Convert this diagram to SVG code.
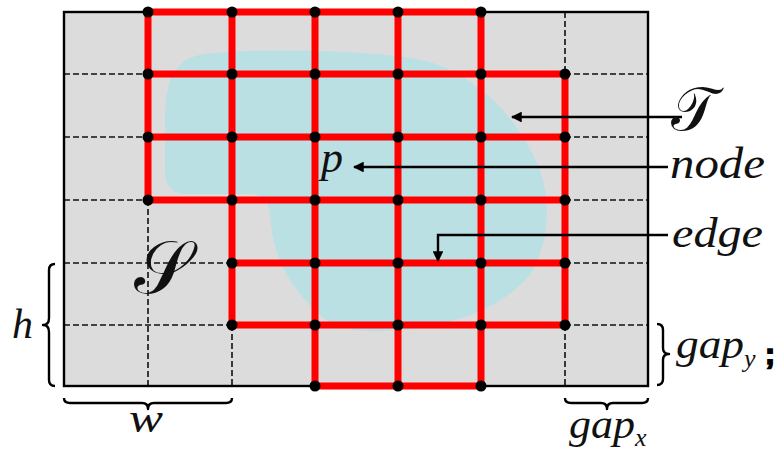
<svg xmlns="http://www.w3.org/2000/svg" width="781" height="452" viewBox="0 0 781 452">
  <style>
    .math { font-family: 'Liberation Serif', 'DejaVu Serif', serif; font-style: italic; fill: #111; }
    .cal { font-family: 'DejaVu Serif', serif; fill: #111; }
    .dash { stroke: #111; stroke-width: 1.6; stroke-dasharray: 6 3; fill: none; }
    .red { stroke: #ff0000; stroke-width: 7; fill: none; }
    .dot { fill: #000; }
    .lead { stroke: #000; stroke-width: 2.4; fill: none; }
    .brace { stroke: #000; stroke-width: 2.4; fill: none; stroke-linejoin: round; }
  </style>
  <defs>
    <marker id="head" viewBox="0 0 10 10" refX="9" refY="5" markerWidth="4.5" markerHeight="4.5" orient="auto" markerUnits="strokeWidth">
      <path d="M0,0 L10,5 L0,10 Z" fill="#000"/>
    </marker>
  </defs>

  <!-- domain background -->
  <rect x="64" y="12" width="584" height="374" fill="#dcdcdc"/>

  <!-- target region -->
  <path id="region" fill="#bae0e4" d="M200,55 C230,48 380,48 430,62 C480,78 520,120 540,170 C552,205 548,245 530,275 C505,305 460,325 400,330 C350,334 330,328 310,305 C285,280 272,250 270,215 C269,200 262,194 250,194 L185,194 C172,194 165,185 165,170 L165,120 C165,80 175,60 200,55 Z"/>

  <!-- unused grid lines -->
  <g id="grid-dashed">
    <path class="dash" d="M64,74 H148 M64,137 H148 M64,200 H148 M64,263 H232 M64,325 H232"/>
    <path class="dash" d="M565,74 H648 M565,137 H648 M565,200 H648 M565,263 H648 M565,325 H648"/>
    <path class="dash" d="M148,200 V386 M232,325 V386 M565,12 V74 M565,325 V386"/>
  </g>

  <!-- domain border -->
  <rect x="64" y="12" width="584" height="374" fill="none" stroke="#000" stroke-width="2.4"/>

  <!-- active grid edges -->
  <g id="connectors">
    <path class="red" d="M148,12 H481 M148,74 H565 M148,137 H565 M148,200 H565 M232,263 H565 M232,325 H565 M315,386 H481"/>
    <path class="red" d="M148,12 V200 M232,12 V325 M315,12 V386 M398,12 V386 M481,12 V386 M565,74 V325"/>
    <!-- label leaders -->
    <path class="lead" marker-end="url(#head)" d="M682,117 H512"/>
    <path class="lead" marker-end="url(#head)" d="M668,167 H354"/>
    <path class="lead" marker-end="url(#head)" d="M668,235 H438 V261"/>
  </g>

  <!-- grid nodes -->
  <g id="nodes">
    <g id="n-0-1"><circle class="dot" cx="148" cy="12" r="5.5"/></g>
    <g id="n-0-2"><circle class="dot" cx="232" cy="12" r="5.5"/></g>
    <g id="n-0-3"><circle class="dot" cx="315" cy="12" r="5.5"/></g>
    <g id="n-0-4"><circle class="dot" cx="398" cy="12" r="5.5"/></g>
    <g id="n-0-5"><circle class="dot" cx="481" cy="12" r="5.5"/></g>

    <g id="n-1-1"><circle class="dot" cx="148" cy="74" r="5.5"/></g>
    <g id="n-1-2"><circle class="dot" cx="232" cy="74" r="5.5"/></g>
    <g id="n-1-3"><circle class="dot" cx="315" cy="74" r="5.5"/></g>
    <g id="n-1-4"><circle class="dot" cx="398" cy="74" r="5.5"/></g>
    <g id="n-1-5"><circle class="dot" cx="481" cy="74" r="5.5"/></g>
    <g id="n-1-6"><circle class="dot" cx="565" cy="74" r="5.5"/></g>

    <g id="n-2-1"><circle class="dot" cx="148" cy="137" r="5.5"/></g>
    <g id="n-2-2"><circle class="dot" cx="232" cy="137" r="5.5"/></g>
    <g id="n-2-3"><circle class="dot" cx="315" cy="137" r="5.5"/></g>
    <g id="n-2-4"><circle class="dot" cx="398" cy="137" r="5.5"/></g>
    <g id="n-2-5"><circle class="dot" cx="481" cy="137" r="5.5"/></g>
    <g id="n-2-6"><circle class="dot" cx="565" cy="137" r="5.5"/></g>

    <g id="n-3-1"><circle class="dot" cx="148" cy="200" r="5.5"/></g>
    <g id="n-3-2"><circle class="dot" cx="232" cy="200" r="5.5"/></g>
    <g id="n-3-3"><circle class="dot" cx="315" cy="200" r="5.5"/></g>
    <g id="n-3-4"><circle class="dot" cx="398" cy="200" r="5.5"/></g>
    <g id="n-3-5"><circle class="dot" cx="481" cy="200" r="5.5"/></g>
    <g id="n-3-6"><circle class="dot" cx="565" cy="200" r="5.5"/></g>

    <g id="n-4-2"><circle class="dot" cx="232" cy="263" r="5.5"/></g>
    <g id="n-4-3"><circle class="dot" cx="315" cy="263" r="5.5"/></g>
    <g id="n-4-4"><circle class="dot" cx="398" cy="263" r="5.5"/></g>
    <g id="n-4-5"><circle class="dot" cx="481" cy="263" r="5.5"/></g>
    <g id="n-4-6"><circle class="dot" cx="565" cy="263" r="5.5"/></g>

    <g id="n-5-2"><circle class="dot" cx="232" cy="325" r="5.5"/></g>
    <g id="n-5-3"><circle class="dot" cx="315" cy="325" r="5.5"/></g>
    <g id="n-5-4"><circle class="dot" cx="398" cy="325" r="5.5"/></g>
    <g id="n-5-5"><circle class="dot" cx="481" cy="325" r="5.5"/></g>
    <g id="n-5-6"><circle class="dot" cx="565" cy="325" r="5.5"/></g>

    <g id="n-6-3"><circle class="dot" cx="315" cy="386" r="5.5"/></g>
    <g id="n-6-4"><circle class="dot" cx="398" cy="386" r="5.5"/></g>
    <g id="n-6-5"><circle class="dot" cx="481" cy="386" r="5.5"/></g>
  </g>

  <!-- dimension braces -->
  <g id="braces">
    <path class="brace" d="M55,264 Q49,264 49,270 V318 Q49,325 43,325 Q49,325 49,332 V380 Q49,386 55,386"/>
    <path class="brace" d="M64,398 Q64,403 70,403 H142 Q148,403 148,409 Q148,403 154,403 H226 Q232,403 232,398"/>
    <path class="brace" d="M565,398 Q565,403 571,403 H601 Q607,403 607,409 Q607,403 613,403 H642 Q648,403 648,398"/>
    <path class="brace" d="M657,324 Q663,324 663,330 V348 Q663,354 669,354 Q663,354 663,360 V379 Q663,385 657,385"/>
  </g>

  <!-- labels -->
  <g id="labels">
    <text class="cal" x="671" y="130" font-size="60">𝒯</text>
    <text class="cal" x="134" y="293" font-size="74">𝒮</text>
    <text class="math" x="321" y="172" font-size="44">p</text>
    <text class="math" x="670" y="178" font-size="44" textLength="95" lengthAdjust="spacingAndGlyphs">node</text>
    <text class="math" x="672" y="247" font-size="42" textLength="91" lengthAdjust="spacingAndGlyphs">edge</text>
    <text class="math" x="12" y="338" font-size="42">h</text>
    <text class="math" x="129" y="432" font-size="40" textLength="34" lengthAdjust="spacingAndGlyphs">w</text>
    <text class="math" x="676" y="358" font-size="40"><tspan textLength="68" lengthAdjust="spacingAndGlyphs">gap</tspan><tspan font-size="26" dy="9">y</tspan></text>
    <text x="765" y="364" font-family="'Liberation Sans', sans-serif" font-weight="bold" font-size="30" fill="#000" stroke="#000" stroke-width="1.6">;</text>
    <text class="math" x="569" y="438" font-size="40"><tspan textLength="66" lengthAdjust="spacingAndGlyphs">gap</tspan><tspan font-size="26" dy="8">x</tspan></text>
  </g>
</svg>
